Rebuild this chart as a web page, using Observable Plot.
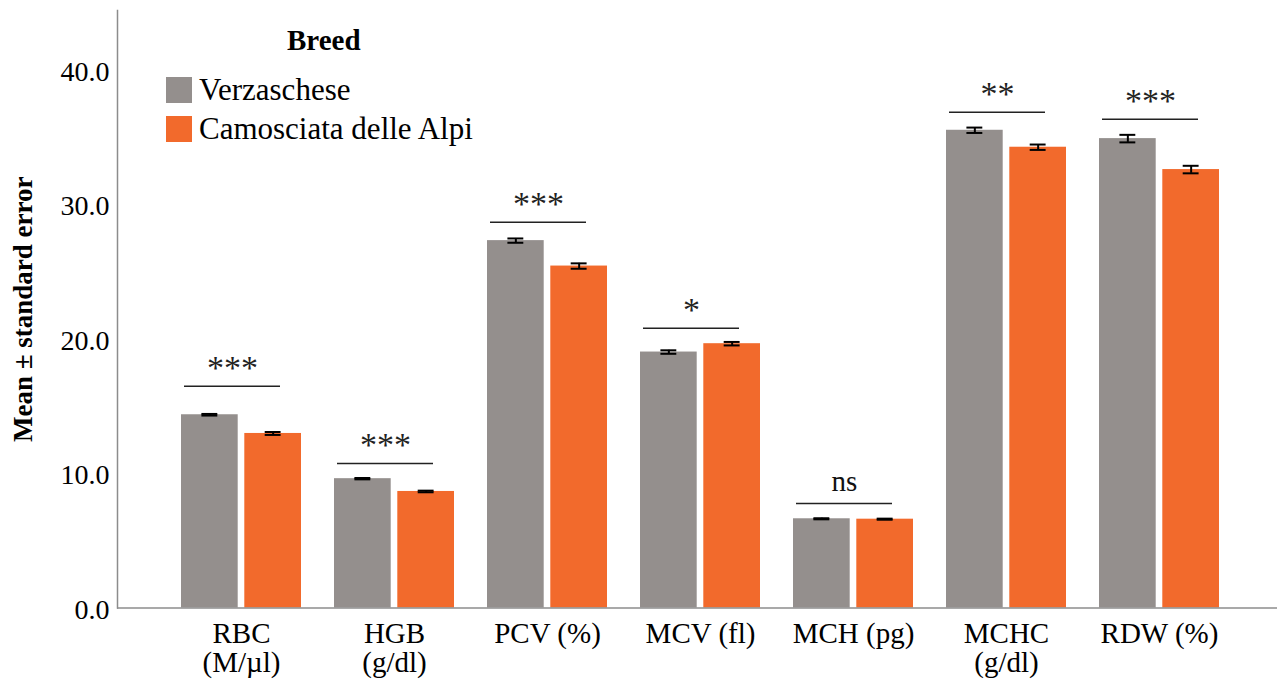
<!DOCTYPE html>
<html>
<head>
<meta charset="utf-8">
<script src="https://cdn.jsdelivr.net/npm/d3@7"></script>
<script src="https://cdn.jsdelivr.net/npm/@observablehq/plot@0.6"></script>
<style>
  html, body { margin: 0; padding: 0; background: #fff; }
  #wrap { position: relative; width: 1277px; height: 679px; font-family: "Liberation Serif", serif; }
  .legend-title { position: absolute; left: 287px; top: 26px; font-size: 29px; font-weight: bold; line-height: 1; }
  .legend-item { position: absolute; left: 166px; font-size: 31px; line-height: 1; display: flex; align-items: center; }
  .legend-item .sw { width: 26px; height: 26px; margin-right: 7px; }
</style>
</head>
<body>
<div id="wrap"></div>
<script>
// ---- data ----
const categories = ["RBC\n(M/µl)", "HGB\n(g/dl)", "PCV (%)", "MCV (fl)", "MCH (pg)", "MCHC\n(g/dl)", "RDW (%)"];
const breeds = ["Verzaschese", "Camosciata delle Alpi"];
const verzMean = [14.36, 9.61, 27.30, 19.02, 6.63, 35.50, 34.88];
const verzSE   = [0.06, 0.05, 0.16, 0.13, 0.04, 0.20, 0.28];
const camMean  = [12.97, 8.66, 25.41, 19.64, 6.60, 34.24, 32.58];
const camSE    = [0.11, 0.06, 0.20, 0.13, 0.04, 0.20, 0.28];
const sigLabels = ["***", "***", "***", "*", "ns", "**", "***"];
const sigLevels = [16.47, 10.74, 28.66, 20.78, 7.77, 36.84, 36.32];
const yTicks = [0, 10, 20, 30, 40];
const colors = ["#948f8d", "#f26a2c"];

const rows = categories.map((c, i) => ({
  cat: c,
  verz: verzMean[i], verzLo: verzMean[i] - verzSE[i], verzHi: verzMean[i] + verzSE[i],
  cam: camMean[i], camLo: camMean[i] - camSE[i], camHi: camMean[i] + camSE[i],
  sig: sigLabels[i], level: sigLevels[i]
}));

const barIn = 63.3;    // inset to split band into two bars
const half = 31.65;    // offset from band centre to bar centre
const capIn = 20.4;

const chart = Plot.plot({
  width: 1277,
  height: 679,
  marginLeft: 117,
  marginRight: 0,
  marginTop: 10,
  marginBottom: 71.5,
  style: {fontFamily: "'Liberation Serif', serif", fontSize: "28px", color: "black", background: "white", overflow: "visible"},
  x: {domain: categories, paddingInner: 0.217, paddingOuter: 0.39, align: 0.52},
  y: {domain: [0, 44.4]},
  marks: [
    Plot.barY(rows, {x: "cat", y: "verz", fill: colors[0], insetRight: barIn}),
    Plot.barY(rows, {x: "cat", y: "cam", fill: colors[1], insetLeft: barIn}),
    // error bars
    Plot.ruleX(rows, {x: "cat", y1: "verzLo", y2: "verzHi", dx: -half, stroke: "black", strokeWidth: 2}),
    Plot.ruleX(rows, {x: "cat", y1: "camLo", y2: "camHi", dx: half, stroke: "black", strokeWidth: 2}),
    Plot.tickY(rows, {x: "cat", y: "verzHi", insetLeft: capIn, insetRight: barIn + capIn, stroke: "black", strokeWidth: 2}),
    Plot.tickY(rows, {x: "cat", y: "verzLo", insetLeft: capIn, insetRight: barIn + capIn, stroke: "black", strokeWidth: 2}),
    Plot.tickY(rows, {x: "cat", y: "camHi", insetLeft: barIn + capIn, insetRight: capIn, stroke: "black", strokeWidth: 2}),
    Plot.tickY(rows, {x: "cat", y: "camLo", insetLeft: barIn + capIn, insetRight: capIn, stroke: "black", strokeWidth: 2}),
    // significance brackets
    Plot.tickY(rows, {x: "cat", y: "level", insetLeft: 3, insetRight: 21, stroke: "#222", strokeWidth: 1.5}),
    Plot.text(rows.filter(d => d.sig !== "ns"), {x: "cat", y: "level", text: "sig", dx: -9, dy: -7, lineAnchor: "bottom", fontSize: 34, fill: "#222"}),
    Plot.text(rows.filter(d => d.sig === "ns"), {x: "cat", y: "level", text: "sig", dx: -9, dy: -12, lineAnchor: "bottom", fontSize: 29, fill: "#111"}),
    // axes
    Plot.ruleY([0], {stroke: "#8c8c8c", strokeWidth: 1.5}),
    Plot.frame({anchor: "left", stroke: "#8c8c8c", strokeWidth: 1.5}),
    Plot.axisY({ticks: yTicks, tickFormat: d => d.toFixed(1), tickSize: 0, tickPadding: 8, label: null, fontSize: 28, dy: 2}),
    Plot.axisX({tickSize: 0, tickPadding: 14, label: null, fontSize: 29, lineHeight: 1}),
    Plot.text(["Mean ± standard error"], {frameAnchor: "left", textAnchor: "middle", rotate: -90, dx: -94, fontSize: 27, fontWeight: "bold", fill: "black"})
  ]
});

const wrap = document.getElementById("wrap");
wrap.appendChild(chart);

// legend (HTML overlay)
const title = document.createElement("div");
title.className = "legend-title";
title.textContent = "Breed";
wrap.appendChild(title);
breeds.forEach((b, i) => {
  const item = document.createElement("div");
  item.className = "legend-item";
  item.style.top = (74 + i * 39) + "px";
  const sw = document.createElement("span");
  sw.className = "sw";
  sw.style.background = colors[i];
  const tx = document.createElement("span");
  tx.textContent = b;
  item.appendChild(sw);
  item.appendChild(tx);
  wrap.appendChild(item);
});
</script>
</body>
</html>
